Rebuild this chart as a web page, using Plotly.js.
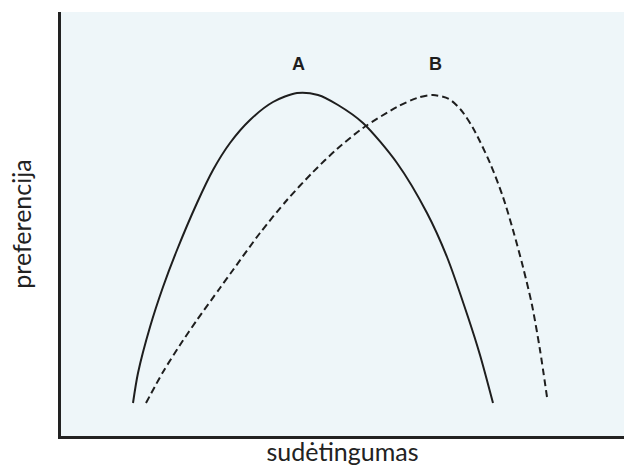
<!DOCTYPE html>
<html>
<head>
<meta charset="utf-8">
<script src="https://cdn.plot.ly/plotly-3.0.1.min.js"></script>
<style>
  html, body { margin: 0; padding: 0; background: #fff; }
  #chart { width: 624px; height: 474px; }
</style>
</head>
<body>
<div id="chart"></div>
<script>
// Curve A (solid)
const aX = [72, 77, 89, 102, 116, 136, 152, 169, 189, 212, 236, 257, 277, 302, 336, 366, 386, 407, 419, 432];
const aY = [33, 63, 109, 149, 186, 233, 266, 293, 316, 334, 343, 341, 331, 313, 273, 223, 179, 119, 81, 33];

// Curve B (dashed)
const bX = [85, 102, 119, 136, 159, 172, 199, 226, 252, 276, 302, 336, 356, 372, 388, 400, 412, 429, 442, 452, 462, 471, 479, 486];
const bY = [33, 64, 91, 116, 148, 166, 203, 236, 264, 287, 308, 329, 338, 341, 337, 326, 308, 273, 239, 206, 169, 131, 86, 39];

const curveLabels = ['A', 'B'];
const labelX = [237, 374];
const labelY = [372, 372];

const traces = [
  {
    x: aX, y: aY, mode: 'lines', name: 'A',
    line: { color: '#1e1e1e', width: 2, shape: 'spline', smoothing: 0.8 },
    hoverinfo: 'skip',
  },
  {
    x: bX, y: bY, mode: 'lines', name: 'B',
    line: { color: '#1e1e1e', width: 2, dash: '7px,4px', shape: 'spline', smoothing: 0.8 },
    hoverinfo: 'skip',
  },
];

const layout = {
  width: 624,
  height: 474,
  margin: { l: 61, r: 0, t: 12, b: 38 },
  paper_bgcolor: '#ffffff',
  plot_bgcolor: '#eef6f9',
  showlegend: false,
  font: { family: 'Lato, "Open Sans", sans-serif', color: '#222' },
  xaxis: {
    range: [0, 563],
    showgrid: false, zeroline: false, showticklabels: false, ticks: '',
    showline: true, linewidth: 3, linecolor: '#222',
    title: { text: 'sudėtingumas', font: { size: 25, color: '#222' }, standoff: 6 },
  },
  yaxis: {
    range: [0, 424],
    showgrid: false, zeroline: false, showticklabels: false, ticks: '',
    showline: true, linewidth: 3, linecolor: '#222',
    title: { text: 'preferencija', font: { size: 25, color: '#222' }, standoff: 20 },
  },
  annotations: curveLabels.map((t, i) => ({
    x: labelX[i], y: labelY[i], text: '<b>' + t + '</b>', showarrow: false,
    font: { family: '"Liberation Sans", Arial, sans-serif', size: 18, color: '#1e1e1e' },
  })),
};

Plotly.newPlot('chart', traces, layout, { displayModeBar: false, staticPlot: true });
</script>
</body>
</html>
